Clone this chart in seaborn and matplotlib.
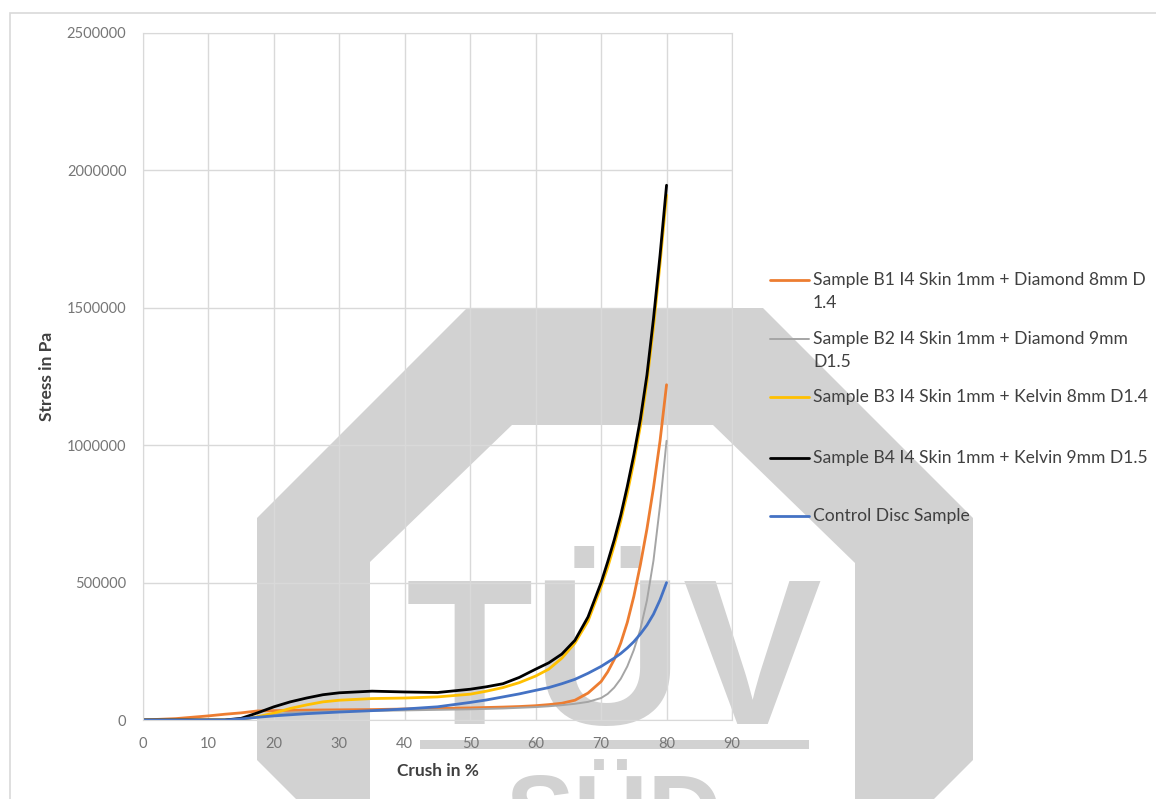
import pandas as pd
import matplotlib
matplotlib.use("Agg")
import matplotlib.pyplot as plt
import seaborn as sns
from matplotlib.patches import Polygon, Rectangle
from matplotlib.lines import Line2D

# === Data ===
crush = [0, 5, 10, 12.5, 15, 17.5, 20, 22.5, 25, 27.5, 30, 35, 40, 45, 50, 52.5, 55,
         57.5, 60, 62, 64, 66, 68, 70, 71, 72, 73, 74, 75, 76, 77, 78, 79, 80]

b1_stress = [0, 5000, 15000, 21000, 26000, 33000, 34000, 35000, 36000, 36500, 37000,
             38000, 40000, 42000, 44000, 45500, 47000, 49000, 52000, 56000, 61000,
             72000, 98000, 140000, 175000, 220000, 280000, 355000, 450000, 565000,
             695000, 845000, 1015000, 1220000]
b2_stress = [0, 0, 0, 0, 2000, 10000, 22000, 26000, 29000, 31000, 32000, 33000, 35000,
             37000, 39000, 40500, 42000, 44500, 47000, 50000, 54000, 59000, 66000,
             80000, 95000, 118000, 150000, 195000, 255000, 330000, 435000, 580000,
             780000, 1016000]
b3_stress = [0, 0, 0, 0, 3000, 12000, 25000, 42000, 55000, 66000, 72000, 78000, 80000,
             84000, 94000, 105000, 118000, 136000, 160000, 185000, 225000, 280000,
             360000, 485000, 555000, 635000, 725000, 825000, 940000, 1070000, 1230000,
             1430000, 1660000, 1910000]
b4_stress = [0, 0, 0, 0, 6000, 26000, 48000, 66000, 80000, 92000, 99000, 105000, 102000,
             100000, 112000, 121000, 132000, 155000, 185000, 208000, 240000, 290000,
             375000, 500000, 575000, 655000, 745000, 850000, 965000, 1095000, 1255000,
             1460000, 1690000, 1946000]
ctrl_stress = [0, 0, 0, 0, 4000, 10000, 15000, 19000, 23000, 26000, 29000, 34000, 40000,
               48000, 64000, 73000, 84000, 95000, 108000, 118000, 132000, 148000,
               170000, 195000, 210000, 225000, 242000, 262000, 285000, 313000, 345000,
               385000, 437000, 500000]

series_names = ["Sample B1 I4 Skin 1mm + Diamond 8mm D 1.4",
                "Sample B2 I4 Skin 1mm + Diamond 9mm D1.5",
                "Sample B3 I4 Skin 1mm + Kelvin 8mm D1.4",
                "Sample B4 I4 Skin 1mm + Kelvin 9mm D1.5",
                "Control Disc Sample"]
# legend text as Excel wrapped it
legend_lines = [["Sample B1 I4 Skin 1mm + Diamond 8mm D", "1.4"],
                ["Sample B2 I4 Skin 1mm + Diamond 9mm", "D1.5"],
                ["Sample B3 I4 Skin 1mm + Kelvin 8mm D1.4"],
                ["Sample B4 I4 Skin 1mm + Kelvin 9mm D1.5"],
                ["Control Disc Sample"]]
colors = ["#ED7D31", "#A5A5A5", "#FFC000", "#000000", "#4472C4"]

x_ticks = list(range(0, 100, 10))
y_ticks = list(range(0, 2500001, 500000))

df = pd.concat([
    pd.DataFrame({"crush": crush, "stress": vals, "series": name})
    for name, vals in zip(series_names,
                          [b1_stress, b2_stress, b3_stress, b4_stress, ctrl_stress])
])

# === Figure ===
sns.set_style("white")
plt.rcParams["font.family"] = ["Lato", "DejaVu Sans"]

W, H = 1156, 799
fig = plt.figure(figsize=(W / 100, H / 100), dpi=100)
ax = fig.add_axes([143 / W, 1 - 720 / H, (732 - 143) / W, (720 - 33) / H])
ax.set_facecolor("none")


def px(x, y):
    # pixel (from top-left) -> figure fraction
    return (x / W, 1 - y / H)


# --- watermark in the background ---
wm = "#d2d2d2"
outer = [(467, 308), (763, 308), (973, 518), (973, 760), (883, 850),
         (347, 850), (257, 760), (257, 518)]
inner = [(512, 425), (713, 425), (855, 563), (855, 810), (815, 850),
         (410, 850), (370, 810), (370, 562)]
fig.add_artist(Polygon([px(*p) for p in outer], closed=True, transform=fig.transFigure,
                       facecolor=wm, edgecolor="none", zorder=-3))
fig.add_artist(Polygon([px(*p) for p in inner], closed=True, transform=fig.transFigure,
                       facecolor="white", edgecolor="none", zorder=-2))
x0, y0 = px(420, 749)
fig.add_artist(Rectangle((x0, y0), (809 - 420) / W, 9 / H, transform=fig.transFigure,
                         facecolor=wm, edgecolor="none", zorder=-1))
fig.text(*px(614, 724), "TÜV", family="Liberation Sans", weight="bold", fontsize=150,
         color=wm, ha="center", va="baseline", zorder=-1)
fig.text(*px(614, 848), "SÜD", family="Liberation Sans", weight="bold", fontsize=74,
         color=wm, ha="center", va="baseline", zorder=-1)

# chart area border
bx, by = px(10, 13)
fig.add_artist(Rectangle((bx, -0.05), 1.1, by + 0.05, transform=fig.transFigure,
                         facecolor="none", edgecolor="#d9d9d9", linewidth=1.2, zorder=-1))

# --- data lines ---
sns.lineplot(data=df, x="crush", y="stress", hue="series", hue_order=series_names,
             palette=dict(zip(series_names, colors)), linewidth=2.0, sort=False,
             legend=False, ax=ax)
ax.lines[1].set_linewidth(1.4)

ax.set_xlim(0, 90)
ax.set_ylim(0, 2500000)
ax.set_xticks(x_ticks)
ax.set_yticks(y_ticks)
ax.set_yticklabels([str(v) for v in y_ticks])
ax.grid(True, color="#d9d9d9", linewidth=1)
for s in ax.spines.values():
    s.set_color("#d9d9d9")
ax.tick_params(length=0, labelsize=10.5, labelcolor="#767676")
ax.tick_params(axis="y", pad=12)
ax.tick_params(axis="x", pad=12)

ax.set_xlabel("Crush in %", fontsize=12.5, weight="bold", color="#404040")
ax.set_ylabel("Stress in Pa", fontsize=12.5, weight="bold", color="#404040")
ax.xaxis.set_label_coords(0.5, -0.062)
ax.yaxis.set_label_coords(-0.149, 0.5)

# --- legend (Excel style, text wrapped, handle on first line) ---
leg_y = [280, 339, 397, 458, 516]
for lines, col, ly in zip(legend_lines, colors, leg_y):
    lw = 1.4 if col == "#A5A5A5" else 2.0
    fig.add_artist(Line2D([770 / W, 809 / W], [1 - ly / H] * 2, color=col, linewidth=lw,
                          transform=fig.transFigure))
    for i, txt in enumerate(lines):
        fig.text(*px(813, ly + 23 * i), txt, fontsize=12.6, color="#404040",
                 ha="left", va="center")

fig.savefig("out.png", dpi=100)
